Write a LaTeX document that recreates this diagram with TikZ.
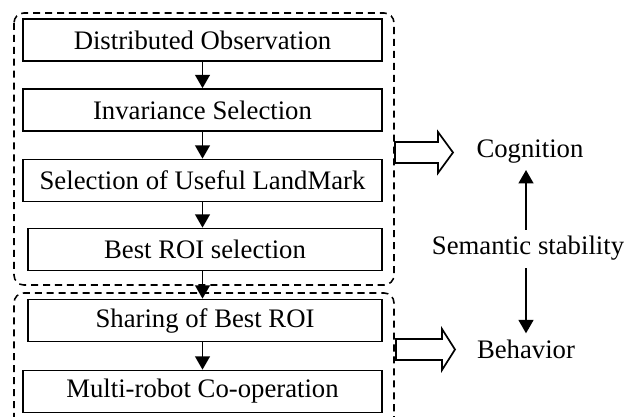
\documentclass[tikz,border=0pt]{standalone}
\usepackage{fontspec}
\setmainfont{Liberation Serif}
\usetikzlibrary{arrows.meta}

\tikzset{
  stage/.style={draw, line width=1.2pt, minimum width=359*0.025cm, minimum height=42*0.025cm,
    inner sep=0pt, font=\fontsize{19}{22}\selectfont},
  narrowstage/.style={stage, minimum width=354*0.025cm},
  flow/.style={line width=1.4pt, -{Triangle[width=10.5pt, length=9.5pt]}},
  group/.style={dashed, dash pattern=on 5pt off 3.5pt, line width=1.1pt, rounded corners=7pt},
  blockarrow/.style={draw, line width=1.2pt, line join=miter},
  outcome/.style={font=\fontsize{19}{22}\selectfont, inner sep=0pt}
}

\begin{document}
\begin{tikzpicture}[x=0.025cm, y=-0.025cm]
  \useasboundingbox (0,0) rectangle (642,416);

  % Processing chain
  \node[stage] (obs) at (202.5,40) {Distributed Observation};
  \node[stage] (inv) at (202.5,110) {Invariance Selection};
  \node[stage] (lmk) at (202.5,180.5) {Selection of Useful LandMark};
  \node[narrowstage] (roi) at (205,249.5) {Best ROI selection};
  \node[narrowstage] (share) at (205,320.5) {Sharing of Best ROI};
  \node[stage] (coop) at (202.5,391.5) {Multi-robot Co-operation};

  \draw[flow] (obs.south) -- (inv.north);
  \draw[flow] (inv.south) -- (lmk.north);
  \draw[flow] (lmk.south) -- (lmk.south |- roi.north);
  \draw[flow] (lmk.south |- roi.south) -- (lmk.south |- share.north);
  \draw[flow] (lmk.south |- share.south) -- (coop.north);

  % Dashed groups
  \draw[group] (14,13) rectangle (394,285);
  \draw[group] (14,420) |- (394,293) -- (394,420);

  % Outcomes
  \node[outcome] (cog) at (530,152) {Cognition};
  \node[outcome] (sem) at (528,248) {Semantic stability};
  \node[outcome] (beh) at (526,349) {Behavior};

  \draw[flow] ([xshift=-2*0.025cm, yshift=6*0.025cm]sem.north)
    -- ([xshift=-2*0.025cm, yshift=-6*0.025cm]sem.north |- cog.south);
  \draw[flow] ([xshift=-2*0.025cm, yshift=-8*0.025cm]sem.south)
    -- ([xshift=-2*0.025cm, yshift=6*0.025cm]sem.south |- beh.north);

  % Block arrows towards the outcomes
  \draw[blockarrow] (395,142) -- (438,142) -- (438,132) -- (453,152.5) -- (438,173) -- (438,163) -- (395,163) -- cycle;
  \draw[blockarrow] (396,339) -- (442,339) -- (442,329) -- (455,349.5) -- (442,370) -- (442,360) -- (396,360) -- cycle;
\end{tikzpicture}
\end{document}
